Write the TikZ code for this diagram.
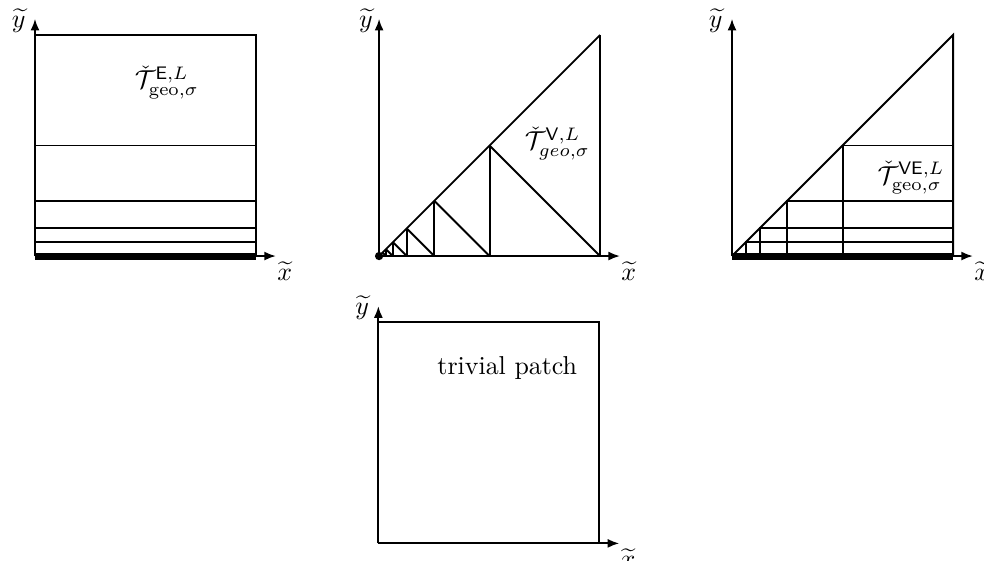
\documentclass[tikz,border=0pt]{standalone}
\usepackage{amsmath}
\usepackage{amssymb}
\usetikzlibrary{arrows.meta, calc}
\tikzset{
  axis/.style={-{Latex[length=4.5pt,width=3.5pt]}, line width=0.75pt},
  edge/.style={line width=0.75pt},
  base/.style={line width=2.7pt},
  axlabel/.style={inner sep=0pt, font=\normalsize},
  patchlabel/.style={inner sep=0pt, font=\normalsize},
}
\newcommand{\pside}{3}

\begin{document}
\begin{tikzpicture}
        \useasboundingbox (-0.475,-4.127) rectangle (12.88,3.475);
        % edge patch
        \begin{scope}
          \coordinate (oE) at (0,0);
          \draw[edge] (0,\pside) -- (\pside,\pside) -- (\pside,0);
          \foreach \k in {1,...,4} {
            \pgfmathsetmacro{\s}{\pside/2^\k}
            \draw[edge] (0,\s) -- (\pside,\s);
          }
          \draw[axis] (oE) -- (0,3.22) coordinate (yE);
          \draw[axis] (oE) -- (3.27,0) coordinate (xE);
          \draw[base] (oE) -- (\pside,0);
          \node[axlabel] (ylE) at ($(yE)+(-0.22,-0.02)$) {$\widetilde{y}$};
          \node[axlabel] (xlE) at ($(xE)+(0.12,-0.2)$) {$\widetilde{x}$};
          \node[patchlabel] (lblE) at (1.79,2.36) {$\check{\mathcal{T}}^{\mathsf{E},L}_{\mathrm{geo},\sigma}$};
        \end{scope}
        % vertex patch
        \begin{scope}[shift={(4.67,0)}]
          \coordinate (oV) at (0,0);
          \draw[edge] (oV) -- (\pside,\pside);
          \foreach \k in {0,...,5} {
            \pgfmathsetmacro{\s}{\pside/2^\k}
            \draw[edge] (\s,0) -- (\s,\s);
            \draw[edge] (\s/2,\s/2) -- (\s,0);
          }
          \draw[axis] (oV) -- (0,3.22) coordinate (yV);
          \draw[axis] (oV) -- (3.27,0) coordinate (xV);
          \fill (oV) circle (1.6pt);
          \node[axlabel] (ylV) at ($(yV)+(-0.18,-0.02)$) {$\widetilde{y}$};
          \node[axlabel] (xlV) at ($(xV)+(0.12,-0.2)$) {$\widetilde{x}$};
          \node[patchlabel] (lblV) at (2.42,1.53) {$\check{\mathcal{T}}^{\mathsf{V},L}_{geo,\sigma}$};
        \end{scope}
        % vertex-edge patch
        \begin{scope}[shift={(9.46,0)}]
          \coordinate (oVE) at (0,0);
          \draw[edge] (oVE) -- (\pside,\pside) -- (\pside,0);
          \foreach \k in {1,...,4} {
            \pgfmathsetmacro{\s}{\pside/2^\k}
            \draw[edge] (\s,0) -- (\s,\s) -- (\pside,\s);
          }
          \draw[axis] (oVE) -- (0,3.22) coordinate (yVE);
          \draw[axis] (oVE) -- (3.27,0) coordinate (xVE);
          \draw[base] (oVE) -- (\pside,0);
          \node[axlabel] (ylVE) at ($(yVE)+(-0.22,-0.02)$) {$\widetilde{y}$};
          \node[axlabel] (xlVE) at ($(xVE)+(0.12,-0.2)$) {$\widetilde{x}$};
          \node[patchlabel] (lblVE) at (2.43,1.06) {$\check{\mathcal{T}}^{\mathsf{VE},L}_{\mathrm{geo},\sigma}$};
        \end{scope}
        % trivial patch
        \begin{scope}[shift={(4.66,-3.9)}]
          \coordinate (oT) at (0,0);
          \draw[edge] (0,\pside) -- (\pside,\pside) -- (\pside,0);
          \draw[axis] (oT) -- (0,3.22) coordinate (yT);
          \draw[axis] (oT) -- (3.27,0) coordinate (xT);
          \node[axlabel] (ylT) at ($(yT)+(-0.22,-0.02)$) {$\widetilde{y}$};
          \node[axlabel] (xlT) at ($(xT)+(0.12,-0.2)$) {$\widetilde{x}$};
          \node[patchlabel] (lblT) at (1.75,2.38) {trivial patch};
        \end{scope}
\end{tikzpicture}
\end{document}
